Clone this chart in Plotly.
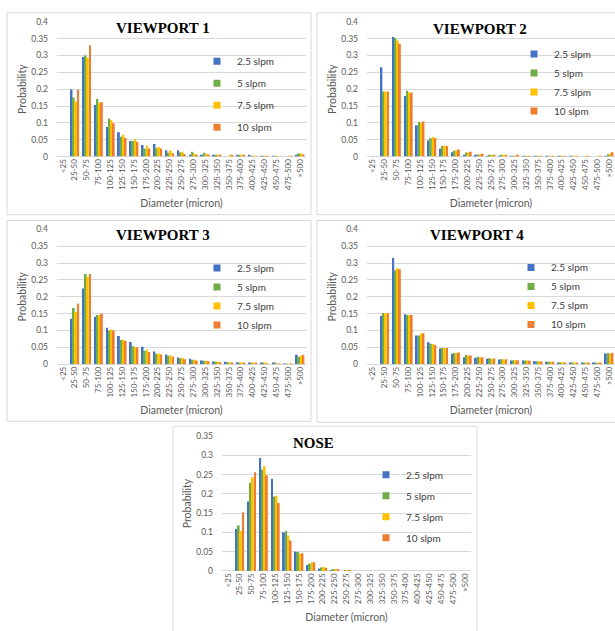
import plotly.graph_objects as go

categories = ["<25", "25-50", "50-75", "75-100", "100-125", "125-150", "150-175", "175-200",
              "200-225", "225-250", "250-275", "275-300", "300-325", "325-350", "350-375",
              "375-400", "400-425", "425-450", "450-475", "475-500", ">500"]
series_names = ["2.5 slpm", "5 slpm", "7.5 slpm", "10 slpm"]
colors = ["#4472C4", "#70AD47", "#FFC000", "#ED7D31"]

# VIEWPORT 1
vp1_2_5 = [0, 0.199, 0.295, 0.153, 0.088, 0.072, 0.046, 0.034, 0.037, 0.019, 0.019, 0.004, 0.005, 0.003, 0.000, 0.003, 0.003, 0.002, 0.001, 0.000, 0.005]
vp1_5 = [0, 0.175, 0.300, 0.171, 0.113, 0.059, 0.046, 0.024, 0.025, 0.011, 0.012, 0.014, 0.011, 0.004, 0.000, 0.003, 0.002, 0.002, 0.002, 0.000, 0.009]
vp1_7_5 = [0, 0.163, 0.293, 0.160, 0.108, 0.065, 0.051, 0.033, 0.028, 0.018, 0.014, 0.009, 0.008, 0.006, 0.005, 0.004, 0.002, 0.001, 0.002, 0.001, 0.009]
vp1_10 = [0, 0.198, 0.330, 0.161, 0.099, 0.055, 0.044, 0.024, 0.024, 0.010, 0.007, 0.005, 0.006, 0.005, 0.004, 0.003, 0.001, 0.001, 0.000, 0.002, 0.006]

# VIEWPORT 2
vp2_2_5 = [0, 0.265, 0.355, 0.180, 0.093, 0.048, 0.023, 0.013, 0.005, 0.004, 0.002, 0.002, 0.002, 0.001, 0.001, 0.001, 0.001, 0.001, 0.000, 0.000, 0.002]
vp2_5 = [0, 0.193, 0.352, 0.195, 0.103, 0.054, 0.031, 0.017, 0.012, 0.006, 0.005, 0.003, 0.002, 0.001, 0.001, 0.001, 0.001, 0.001, 0.000, 0.000, 0.007]
vp2_7_5 = [0, 0.193, 0.345, 0.190, 0.100, 0.058, 0.032, 0.018, 0.012, 0.007, 0.005, 0.003, 0.002, 0.002, 0.001, 0.002, 0.001, 0.001, 0.002, 0.001, 0.009]
vp2_10 = [0, 0.193, 0.335, 0.190, 0.104, 0.055, 0.031, 0.021, 0.014, 0.008, 0.004, 0.004, 0.003, 0.002, 0.002, 0.002, 0.002, 0.001, 0.001, 0.001, 0.013]

# VIEWPORT 3
vp3_2_5 = [0, 0.135, 0.225, 0.141, 0.108, 0.084, 0.066, 0.052, 0.038, 0.029, 0.020, 0.016, 0.011, 0.008, 0.007, 0.006, 0.004, 0.003, 0.003, 0.002, 0.028]
vp3_5 = [0, 0.167, 0.268, 0.146, 0.100, 0.072, 0.053, 0.040, 0.030, 0.025, 0.018, 0.013, 0.010, 0.007, 0.006, 0.005, 0.004, 0.003, 0.003, 0.002, 0.022]
vp3_7_5 = [0, 0.155, 0.260, 0.145, 0.103, 0.073, 0.051, 0.043, 0.032, 0.026, 0.019, 0.013, 0.010, 0.008, 0.006, 0.005, 0.004, 0.003, 0.002, 0.002, 0.026]
vp3_10 = [0, 0.180, 0.268, 0.150, 0.100, 0.069, 0.050, 0.036, 0.029, 0.022, 0.015, 0.011, 0.009, 0.006, 0.005, 0.004, 0.003, 0.002, 0.002, 0.002, 0.027]

# VIEWPORT 4
vp4_2_5 = [0, 0.143, 0.315, 0.148, 0.085, 0.065, 0.047, 0.031, 0.021, 0.019, 0.016, 0.014, 0.011, 0.011, 0.009, 0.007, 0.005, 0.004, 0.004, 0.003, 0.032]
vp4_5 = [0, 0.152, 0.279, 0.146, 0.085, 0.061, 0.048, 0.033, 0.027, 0.022, 0.018, 0.015, 0.012, 0.011, 0.009, 0.007, 0.005, 0.005, 0.004, 0.003, 0.033]
vp4_7_5 = [0, 0.152, 0.285, 0.146, 0.091, 0.060, 0.048, 0.033, 0.026, 0.021, 0.016, 0.015, 0.012, 0.011, 0.009, 0.007, 0.006, 0.005, 0.004, 0.003, 0.032]
vp4_10 = [0, 0.151, 0.282, 0.146, 0.092, 0.057, 0.048, 0.035, 0.026, 0.021, 0.017, 0.015, 0.012, 0.010, 0.008, 0.007, 0.005, 0.005, 0.004, 0.003, 0.033]

# NOSE
nose_2_5 = [0, 0.109, 0.180, 0.293, 0.239, 0.100, 0.050, 0.015, 0.006, 0.002, 0.000, 0, 0, 0, 0, 0, 0, 0, 0, 0, 0]
nose_5 = [0, 0.118, 0.229, 0.263, 0.193, 0.104, 0.049, 0.019, 0.009, 0.003, 0.001, 0, 0, 0, 0, 0, 0, 0, 0, 0, 0]
nose_7_5 = [0, 0.104, 0.243, 0.272, 0.195, 0.092, 0.044, 0.023, 0.010, 0.003, 0.002, 0, 0, 0, 0, 0, 0, 0, 0, 0, 0]
nose_10 = [0, 0.152, 0.256, 0.248, 0.176, 0.079, 0.046, 0.022, 0.008, 0.003, 0.001, 0, 0, 0, 0, 0, 0, 0, 0, 0, 0]

panel_titles = ["VIEWPORT 1", "VIEWPORT 2", "VIEWPORT 3", "VIEWPORT 4", "NOSE"]
panel_data = [
    [vp1_2_5, vp1_5, vp1_7_5, vp1_10],
    [vp2_2_5, vp2_5, vp2_7_5, vp2_10],
    [vp3_2_5, vp3_5, vp3_7_5, vp3_10],
    [vp4_2_5, vp4_5, vp4_7_5, vp4_10],
    [nose_2_5, nose_5, nose_7_5, nose_10],
]
y_max = [0.4, 0.4, 0.4, 0.4, 0.35]

W, H = 615, 631
def fx(x):
    return x / W
def fy(y):
    return 1 - y / H

# pixel layout: plot area (x0, x1, ytop, ybottom)
plot_px = [
    (57, 306, 17, 154),
    (367, 616, 17, 154),
    (57, 306, 228, 365),
    (367, 616, 228, 365),
    (222, 471, 438, 575),
]
title_px = [(163, 23), (480, 24), (163, 234), (477, 234), (313, 445)]
legend_px = [(197, 42.5, 3), (514, 35, 0), (197, 252.5, 0), (511, 252, 0), (366, 462.5, 2)]
box_px = [(7, 311, 8, 213), (317, 620, 8, 213), (7, 311, 219, 423),
          (317, 620, 219, 424), (173, 477, 428, 640)]

FONT = "Lato"
GRAY = "#595959"
GRID = "#d9d9d9"

fig = go.Figure()
layout = dict(
    width=W, height=H, margin=dict(l=0, r=0, t=0, b=0),
    paper_bgcolor="white", plot_bgcolor="white",
    barmode="group", bargap=0.25, bargroupgap=0.12,
    font=dict(family=FONT, color=GRAY),
    annotations=[], shapes=[],
)

for p in range(5):
    sfx = "" if p == 0 else str(p + 1)
    xa, ya = "x" + sfx, "y" + sfx
    lg = "legend" + sfx
    for s in range(4):
        fig.add_trace(go.Bar(
            x=categories, y=panel_data[p][s], name=series_names[s],
            marker=dict(color=colors[s], line=dict(width=0)),
            xaxis=xa, yaxis=ya, showlegend=False,
        ))
    for s in range(4):
        fig.add_trace(go.Scatter(
            x=[None], y=[None], mode="markers", name=series_names[s],
            marker=dict(symbol="square", size=7, color=colors[s]),
            xaxis=xa, yaxis=ya, showlegend=True, legend=lg,
            legendgroup=f"p{p}s{s}",
        ))
    x0, x1, yt, yb = plot_px[p]
    layout["xaxis" + sfx] = dict(
        domain=[fx(x0), min(fx(x1), 1.0)], anchor=ya, type="category",
        categoryorder="array", categoryarray=categories,
        range=[-0.5, 20.5], tickangle=-90, ticks="", showgrid=False,
        showline=False, zeroline=False,
        tickfont=dict(family=FONT, size=8, color=GRAY),
        title=dict(text="Diameter (micron)", standoff=10,
                   font=dict(family=FONT, size=10.5, color=GRAY)),
    )
    layout["yaxis" + sfx] = dict(
        domain=[fy(yb), fy(yt)], anchor=xa, range=[0, y_max[p]], dtick=0.05,
        tick0=0, showgrid=True, gridcolor=GRID, gridwidth=1,
        zeroline=True, zerolinecolor=GRID, zerolinewidth=1, showline=False,
        ticks="", ticklabelstandoff=8,
        tickfont=dict(family=FONT, size=8.5, color=GRAY),
        title=dict(text="Probability", standoff=2,
                   font=dict(family=FONT, size=10.5, color=GRAY)),
    )
    lx, ly, gap = legend_px[p]
    layout[lg] = dict(
        x=fx(lx), y=fy(ly), xanchor="left", yanchor="top",
        bgcolor="rgba(0,0,0,0)", borderwidth=0, tracegroupgap=gap,
        font=dict(family=FONT, size=10, color="#404040"),
    )
    tx, ty = title_px[p]
    layout["annotations"].append(dict(
        text="<b>" + panel_titles[p] + "</b>", x=fx(tx), y=fy(ty),
        xref="paper", yref="paper", xanchor="center", yanchor="middle",
        showarrow=False, font=dict(family="Liberation Serif", size=15, color="black"),
    ))
    bx0, bx1, by0, by1 = box_px[p]
    layout["shapes"].append(dict(
        type="rect", xref="paper", yref="paper",
        x0=fx(bx0), x1=fx(bx1), y0=fy(by1), y1=fy(by0),
        line=dict(color=GRID, width=1), fillcolor="rgba(0,0,0,0)", layer="below",
    ))

fig.update_layout(**layout)
fig.write_html("out.html", config={"displayModeBar": False},
               post_script="document.body.style.margin='0px';")
